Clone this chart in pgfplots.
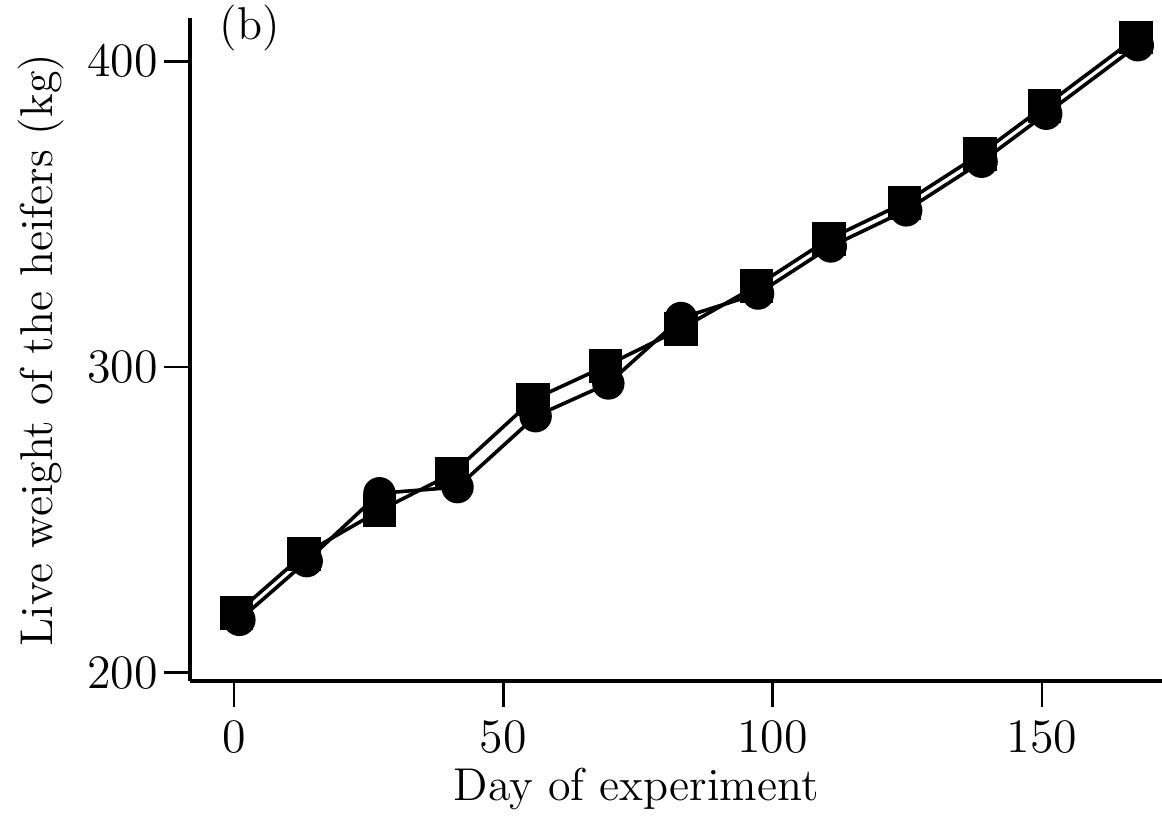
\documentclass[border=0pt]{standalone}
\usepackage{pgfplots}
\pgfplotsset{compat=1.18}
\begin{document}
\begin{tikzpicture}
\begin{axis}[
  at={(0,0)}, anchor=south west,
  scale only axis,
  width=243pt, height=165.75pt,
  xmin=-8.17, xmax=172.3,
  ymin=197.3, ymax=414.1,
  axis x line*=bottom, axis y line*=left,
  axis line style={-, line width=0.8pt},
  xtick={0,50,100,150}, ytick={200,300,400},
  tick align=outside,
  major tick length=6.5pt,
  tick style={black, line width=0.7pt},
  ticklabel style={font=\fontsize{11.5}{13}\selectfont},
  yticklabel style={xshift=2pt},
  label style={font=\fontsize{11.5}{13}\selectfont},
  xlabel={Day of experiment},
  ylabel={Live weight of the heifers (kg)},
  xlabel style={at={(axis description cs:0.459,-0.1795)}, anchor=base},
  ylabel style={at={(axis description cs:-0.141,0.499)}, anchor=base},
  clip=false,
]
\addplot[black, line width=0.9pt, mark=*, mark size=3.6pt, mark options={fill=black, solid}]
 coordinates {(1,217.3)(13.5,236.5)(27,258.7)(41.5,260.7)(56,283.9)(69.5,294.6)(83,316.0)(97.3,324.0)(110.8,339.4)(124.8,351.2)(138.8,367.1)(150.8,382.8)(167.8,405.2)};
\addplot[black, line width=0.9pt, mark=square*, mark size=3.75pt, mark options={fill=black, solid}]
 coordinates {(0.5,219.6)(13,238.8)(27,253.0)(40.5,265.1)(55.5,289.3)(69,300.3)(83,312.5)(97,326.5)(110.5,341.9)(124.5,353.7)(138.5,369.6)(150.5,385.3)(167.5,407.7)};
\node[font=\fontsize{11.5}{13}\selectfont, anchor=center] at (rel axis cs:0.0617,0.985) {(b)};
\end{axis}
\pgfresetboundingbox
\path[use as bounding box] (-47.5pt,-34pt) rectangle (243pt,170.25pt);
\end{tikzpicture}
\end{document}
